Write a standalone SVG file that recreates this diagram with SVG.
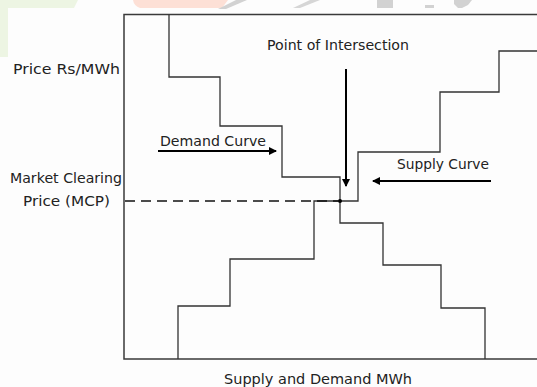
<svg xmlns="http://www.w3.org/2000/svg" width="537" height="387" viewBox="0 0 537 387">
<style>
  text { font-family: "DejaVu Sans", "Liberation Sans", sans-serif; font-size: 14.5px; fill: #222; }
  .axis { stroke: #3a3a3a; stroke-width: 1.5; fill: none; }
  .curve { stroke: #333; stroke-width: 1.3; fill: none; }
  .arrow { stroke: #000; stroke-width: 2; fill: none; marker-end: url(#ah); }
  .dash { stroke: #111; stroke-width: 1.3; stroke-dasharray: 10 6; fill: none; }
</style>
<defs>
  <marker id="ah" markerWidth="8" markerHeight="8" refX="7" refY="4" orient="auto" markerUnits="userSpaceOnUse">
    <path d="M0,0 L8,4 L0,8 Z" fill="#000"/>
  </marker>
</defs>
<rect x="0" y="0" width="537" height="387" fill="#fdfdfd"/>
<g id="watermark">
  <path d="M2,0 H78 L74,8 H8 V57 H0 V0 Z" fill="#edf5e3"/>
  <path d="M133,0 H228 L222,8 H140 Q134,6 133,0 Z" fill="#fde0d6"/>
  <path d="M236,0 H247 L226,9 H218 Z" fill="#d2d2d2"/>
  <path d="M310,0 H320 L300,8 H293 Z" fill="#d6d6d6"/>
  <rect x="377" y="0" width="16" height="8" fill="#d2d2d2"/>
  <rect x="425" y="5" width="9" height="3" fill="#d2d2d2"/>
  <path d="M454,0 H472 L468,5 L462,8 H458 L454,4 Z" fill="#d2d2d2"/>
</g>
<g id="axes">
  <path class="axis" d="M537,14.5 H124 V359 H537"/>
</g>
<g id="demand-curve">
  <path class="curve" d="M169,14.5 V77 H220 V126 H282 V177 H340 V223 H383 V265 H441 V308 H485 V359"/>
</g>
<g id="supply-curve">
  <path class="curve" d="M178,359 V306 H230 V259 H314 V201 H358 V152 H440 V92 H499 V51 H537"/>
</g>
<g id="mcp-line">
  <path class="dash" d="M125,201 H338"/>
  <circle cx="340" cy="201" r="2" fill="#000"/>
</g>
<g id="connectors">
  <path class="arrow" d="M346,69 V186"/>
  <path class="arrow" d="M158,151 H276"/>
  <path class="arrow" d="M491,181 H373"/>
</g>
<g id="labels">
  <text x="267" y="50" textLength="142" lengthAdjust="spacingAndGlyphs">Point of Intersection</text>
  <text x="13" y="74" textLength="107" lengthAdjust="spacingAndGlyphs">Price Rs/MWh</text>
  <text x="160" y="146" textLength="106" lengthAdjust="spacingAndGlyphs">Demand Curve</text>
  <text x="10" y="183" textLength="112" lengthAdjust="spacingAndGlyphs">Market Clearing</text>
  <text x="23" y="206" textLength="87" lengthAdjust="spacingAndGlyphs">Price (MCP)</text>
  <text x="397" y="169" textLength="92" lengthAdjust="spacingAndGlyphs">Supply Curve</text>
  <text x="224" y="384" textLength="188" lengthAdjust="spacingAndGlyphs">Supply and Demand MWh</text>
</g>
</svg>
